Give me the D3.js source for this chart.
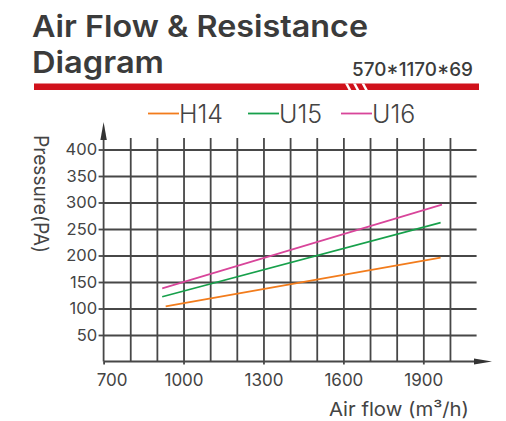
<!DOCTYPE html>
<html>
<head>
<meta charset="utf-8">
<script src="https://cdn.jsdelivr.net/npm/d3@7"></script>
<style>
  body { margin: 0; background: #fff; }
  svg { display: block; }
  text { font-family: Inter, "Noto Sans", sans-serif; fill: #444; }
</style>
</head>
<body>
<svg id="chart" width="506" height="421"></svg>
<script>
// data
var seriesNames = ["H14", "U15", "U16"];
var seriesColors = ["#f27c1c", "#17a04b", "#d8459a"];
var flowH14 = [933, 1965], pressureH14 = [104, 196];
var flowU15 = [920, 1965], pressureU15 = [122, 262];
var flowU16 = [920, 1970], pressureU16 = [138, 296];
var xTicks = [700, 1000, 1300, 1600, 1900];
var xGrid = [800, 900, 1000, 1100, 1200, 1300, 1400, 1500, 1600, 1700, 1800, 1900, 2000];
var yTicks = [50, 100, 150, 200, 250, 300, 350, 400];

var svg = d3.select("#chart");
var gridColor = "#474747";
var fontStack = "Inter, 'Noto Sans', sans-serif";

// header
svg.append("text").attr("x", 32).attr("y", 37)
  .attr("textLength", 336).attr("lengthAdjust", "spacingAndGlyphs")
  .style("font-size", "30px").style("font-weight", 600).style("fill", "#3b3b3b")
  .text("Air Flow & Resistance");
svg.append("text").attr("x", 32).attr("y", 72.5)
  .attr("textLength", 132).attr("lengthAdjust", "spacingAndGlyphs")
  .style("font-size", "30px").style("font-weight", 600).style("fill", "#3b3b3b")
  .text("Diagram");
svg.append("text").attr("x", 473).attr("y", 76).attr("text-anchor", "end")
  .attr("textLength", 121).attr("lengthAdjust", "spacingAndGlyphs")
  .style("font-size", "19px").style("font-weight", 500).style("fill", "#3b3b3b")
  .text("570*1170*69");

svg.append("rect").attr("x", 34).attr("y", 83.5).attr("width", 445).attr("height", 6.5)
  .attr("fill", "#d0111b");
[345, 353, 361.5].forEach(function(sx) {
  svg.append("path")
    .attr("d", "M" + sx + ",83.5 L" + (sx + 2.8) + ",83.5 L" + (sx + 6.3) + ",90 L" + (sx + 3.5) + ",90 Z")
    .attr("fill", "#fff");
});

// scales
var x = d3.scaleLinear().domain([700, 2100]).range([103.6, 476.6]);
var y = d3.scaleLinear().domain([0, 400]).range([361.5, 149.5]);

// grid
svg.append("g").attr("transform", "translate(0," + y(0) + ")")
  .call(d3.axisTop(x).tickValues(xGrid).tickSize(y(0) - 138).tickFormat(""))
  .call(function(g) {
    g.select(".domain").remove();
    g.selectAll("line").attr("stroke", gridColor).attr("stroke-width", 1.8);
  });
svg.append("g").attr("transform", "translate(" + x(700) + ",0)")
  .call(d3.axisLeft(y).tickValues(yTicks).tickSize(-(x(2100) - x(700))).tickFormat(""))
  .call(function(g) {
    g.select(".domain").remove();
    g.selectAll("line").attr("stroke", gridColor).attr("stroke-width", 1.8);
  });

// y axis with ticks and labels
svg.append("g").attr("transform", "translate(" + x(700) + ",0)")
  .call(d3.axisLeft(y).tickValues(yTicks).tickSize(5).tickPadding(1.5).tickFormat(d3.format("d")))
  .call(function(g) {
    g.select(".domain").remove();
    g.selectAll("line").attr("stroke", gridColor).attr("stroke-width", 1.8);
    g.selectAll("text").style("font-size", "16.5px").style("fill", "#444")
      .style("font-family", fontStack);
  });

// x axis labels
svg.append("g").attr("transform", "translate(0," + y(0) + ")")
  .call(d3.axisBottom(x).tickValues(xTicks).tickSize(3).tickPadding(9).tickFormat(d3.format("d")))
  .call(function(g) {
    g.select(".domain").remove();
    g.selectAll("line").attr("stroke", gridColor).attr("stroke-width", 1.8);
    g.selectAll("text").style("font-size", "17px").style("fill", "#444")
      .style("font-family", fontStack)
      .attr("dx", function(d) { return d === 700 ? 8 : 0; });
  });

// axis lines with arrows
svg.append("line").attr("x1", x(700)).attr("x2", x(700)).attr("y1", y(0)).attr("y2", 132)
  .attr("stroke", gridColor).attr("stroke-width", 1.8);
svg.append("path")
  .attr("d", "M" + x(700) + ",122 L" + (x(700) + 3.2) + ",140 L" + (x(700) - 3.2) + ",140 Z")
  .attr("fill", "#333");
svg.append("line").attr("x1", x(700)).attr("x2", 482).attr("y1", y(0)).attr("y2", y(0))
  .attr("stroke", gridColor).attr("stroke-width", 1.8);
svg.append("path")
  .attr("d", "M492,"+ y(0) + " L474," + (y(0) - 3) + " L474," + (y(0) + 3) + " Z")
  .attr("fill", "#333");

// series lines
var line = d3.line().x(function(d) { return x(d[0]); }).y(function(d) { return y(d[1]); });
var seriesData = [d3.zip(flowH14, pressureH14), d3.zip(flowU15, pressureU15), d3.zip(flowU16, pressureU16)];
seriesData.forEach(function(pts, i) {
  svg.append("path").datum(pts).attr("d", line)
    .attr("fill", "none").attr("stroke", seriesColors[i]).attr("stroke-width", 1.6);
});

// legend
var legendX = [148, 248, 341];
seriesNames.forEach(function(name, i) {
  svg.append("line").attr("x1", legendX[i]).attr("x2", legendX[i] + 31)
    .attr("y1", 113.5).attr("y2", 113.5)
    .attr("stroke", seriesColors[i]).attr("stroke-width", 1.8);
  svg.append("text").attr("x", legendX[i] + 31).attr("y", 122.5)
    .style("font-size", "25px").style("font-weight", 300).style("fill", "#444")
    .text(name);
});

// axis titles
svg.append("text").attr("transform", "translate(34,135) rotate(90)")
  .attr("textLength", 118).attr("lengthAdjust", "spacingAndGlyphs")
  .style("font-size", "20px").style("fill", "#444")
  .text("Pressure(PA)");
svg.append("text").attr("x", 469).attr("y", 416).attr("text-anchor", "end")
  .attr("textLength", 140).attr("lengthAdjust", "spacingAndGlyphs")
  .style("font-size", "19px").style("fill", "#444")
  .text("Air flow (m³/h)");
</script>
</body>
</html>
